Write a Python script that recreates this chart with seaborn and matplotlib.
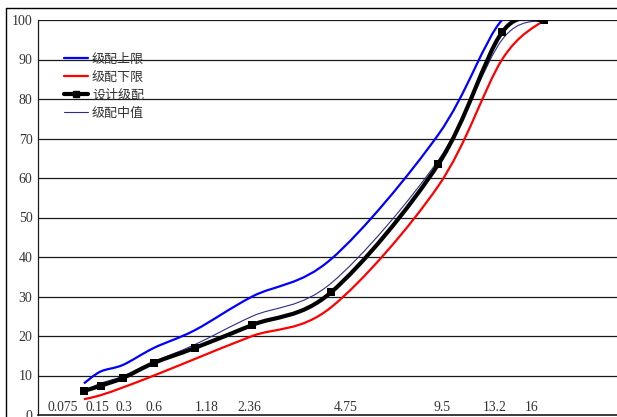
import numpy as np
import matplotlib
matplotlib.use("Agg")
import matplotlib.pyplot as plt
from matplotlib.path import Path
from matplotlib.patches import PathPatch
from matplotlib.lines import Line2D
from matplotlib.transforms import offset_copy
import seaborn as sns

# ---- data ----
sieve_sizes = [0.075, 0.15, 0.3, 0.6, 1.18, 2.36, 4.75, 9.5, 13.2, 16]
sieve_labels = ["0.075", "0.15", "0.3", "0.6", "1.18", "2.36", "4.75", "9.5", "13.2", "16"]
upper_limit = [8, 11, 12.7, 17, 21.5, 30, 39.5, 71, 100, 100]
lower_limit = [4, 5, 7, 10, 14.2, 20, 27.3, 58, 90, 100]
design_grad = [6.1, 7.4, 9.4, 13.2, 17.0, 22.8, 31.1, 63.5, 96.9, 100]
median_grad = [6, 8, 9.85, 13.5, 17.85, 25, 33.4, 64.5, 95, 100]
y_ticks = [0, 10, 20, 30, 40, 50, 60, 70, 80, 90, 100]

series_names = ["级配上限", "级配下限", "设计级配", "级配中值"]

# ---- layout / style ----
POWER = 0.45
label_offsets_px = [-21, -3, 1, 0, 12, -3, 14, 4, -7, -12]
PX_PER_UNIT = 145.1
AX_LEFT_PX, AX_RIGHT_PX = 38, 680

sns.set_theme(style="white")
plt.rcParams["font.family"] = ["Noto Sans CJK SC", "DejaVu Sans"]

fig = plt.figure(figsize=(6.17, 4.17), dpi=100)
fig.patch.set_linewidth(0)
fig.patch.set_edgecolor("none")
ax = fig.add_axes([AX_LEFT_PX / 617, 2 / 417, (AX_RIGHT_PX - AX_LEFT_PX) / 617, 395 / 417])

t = np.array(sieve_sizes) ** POWER
x0 = -0.005
ax.set_xlim(x0, x0 + (AX_RIGHT_PX - AX_LEFT_PX) / PX_PER_UNIT)
ax.set_ylim(0, 100)


def smooth_path(x, y):
    x = np.asarray(x, float)
    y = np.asarray(y, float)
    pts = np.column_stack([x, y])
    n = len(pts)
    verts = [pts[0]]
    codes = [Path.MOVETO]
    for i in range(n - 1):
        p0 = pts[i - 1] if i > 0 else pts[i]
        p1 = pts[i]
        p2 = pts[i + 1]
        p3 = pts[i + 2] if i + 2 < n else pts[i + 1]
        c1 = p1 + (p2 - p0) / 6.0
        c2 = p2 - (p3 - p1) / 6.0
        verts += [c1, c2, p2]
        codes += [Path.CURVE4] * 3
    return Path(verts, codes)


styles = {
    "级配上限": dict(color="#0000FF", lw=1.6),
    "级配下限": dict(color="#FF0000", lw=1.6),
    "设计级配": dict(color="#000000", lw=3.0),
    "级配中值": dict(color="#2E2E8A", lw=0.8),
}
data_map = {
    "级配上限": upper_limit,
    "级配下限": lower_limit,
    "设计级配": design_grad,
    "级配中值": median_grad,
}

# gridlines
for yv in y_ticks[1:]:
    ax.axhline(yv, color="#1a1a1a", lw=0.9, zorder=1)

draw_order = ["级配下限", "级配上限", "级配中值", "设计级配"]
for name in draw_order:
    st = styles[name]
    patch = PathPatch(smooth_path(t, data_map[name]), facecolor="none",
                      edgecolor=st["color"], lw=st["lw"], zorder=3,
                      capstyle="butt", joinstyle="round")
    ax.add_patch(patch)

sns.scatterplot(x=t, y=design_grad, marker="s", color="black", s=26,
                edgecolor="black", linewidth=0, ax=ax, zorder=4, legend=False)

# spines / ticks
for s in ["top", "right"]:
    ax.spines[s].set_visible(False)
ax.spines["left"].set_color("#1a1a1a")
ax.spines["bottom"].set_color("#1a1a1a")
ax.spines["left"].set_linewidth(0.9)
ax.spines["bottom"].set_linewidth(1.2)
ax.set_yticks(y_ticks)
ax.set_yticklabels([str(v) for v in y_ticks], family=["Liberation Serif", "DejaVu Serif"],
                   fontsize=10, color="#333333")
ax.tick_params(axis="y", length=0, pad=4)
ax.set_xticks([])

# sieve labels inside the plot area
for tx, lab, off in zip(t, sieve_labels, label_offsets_px):
    tr = offset_copy(ax.transData, fig=fig, x=off * 72 / 100, y=0, units="points")
    ax.text(tx, 2.0, lab, transform=tr, ha="center", va="center",
            family=["Liberation Serif", "DejaVu Serif"], fontsize=9.8, color="#333333")

# legend
handles = []
for name in series_names:
    st = styles[name]
    if name == "设计级配":
        handles.append(Line2D([], [], color=st["color"], lw=st["lw"], marker="s", markersize=4.5))
    else:
        handles.append(Line2D([], [], color=st["color"], lw=st["lw"]))
leg = ax.legend(handles, series_names, loc="upper left",
                bbox_to_anchor=(64 / 617, 1 - 53 / 417), bbox_transform=fig.transFigure,
                frameon=False, fontsize=9.4, handlelength=1.8, handletextpad=0.35,
                labelspacing=0.38, borderpad=0, borderaxespad=0)
for txt in leg.get_texts():
    txt.set_color("#333333")

# outer border of the chart area (left and top edges visible)
bx, by = 5.5 / 617, 1 - 7.5 / 417
fig.add_artist(Line2D([bx, bx], [0, by], transform=fig.transFigure, color="black", lw=1.0))
fig.add_artist(Line2D([bx, 1.2], [by, by], transform=fig.transFigure, color="black", lw=1.0))

fig.savefig("out.png", dpi=100)
